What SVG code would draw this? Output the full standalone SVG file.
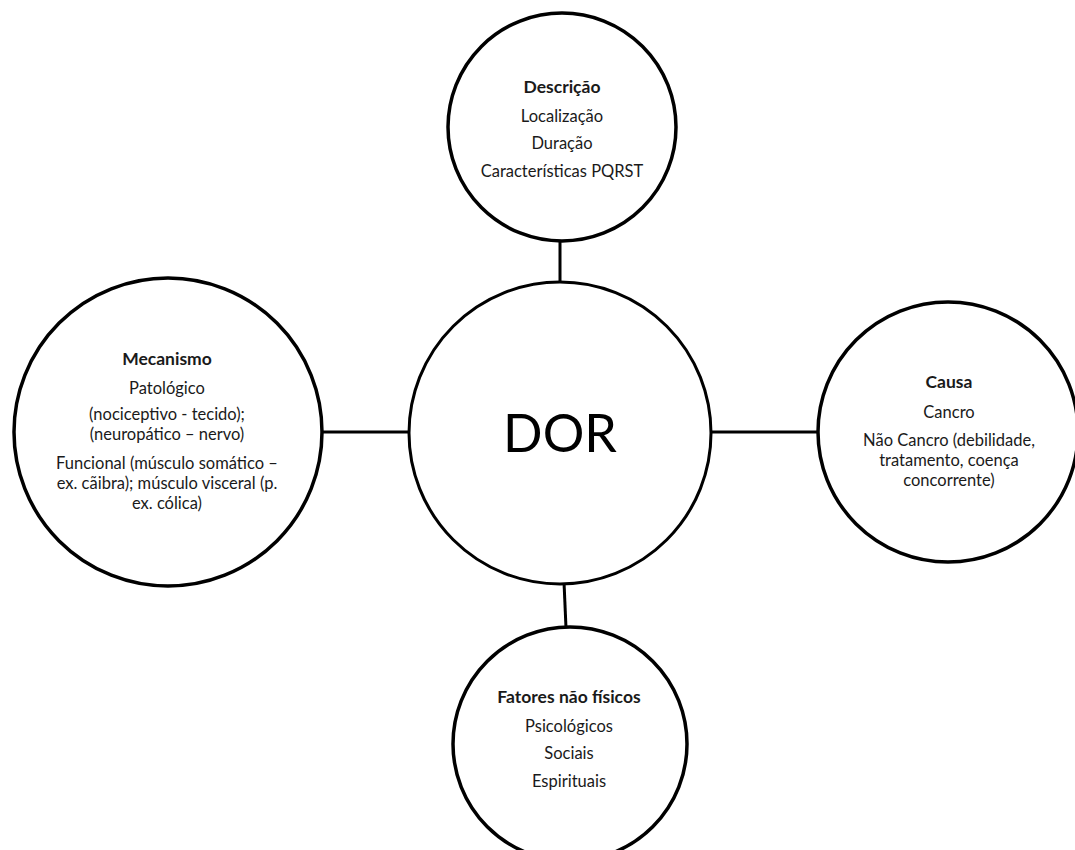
<svg xmlns="http://www.w3.org/2000/svg" width="1075" height="850" viewBox="0 0 1075 850">
<style>
.node{fill:#fff;stroke:#000;stroke-width:3.5}
.conn{stroke:#000;stroke-width:3;fill:none}
text{font-family:Lato,"Liberation Sans",sans-serif;fill:#1a1a1a;text-anchor:middle;font-size:16.5px}
.h{font-weight:bold;font-size:17.5px}
.big{font-size:52px;fill:#000}
</style>
<rect width="1075" height="850" fill="#fff"/>
<g id="connectors">
<line class="conn" x1="560" y1="240" x2="560" y2="284"/>
<line class="conn" x1="323" y1="432" x2="409" y2="432"/>
<line class="conn" x1="711" y1="432" x2="818" y2="432"/>
<line class="conn" x1="564" y1="582" x2="566" y2="628"/>
</g>
<g id="dor">
<circle class="node" cx="560" cy="433" r="151" style="stroke-width:3"/>
<text class="big" x="560" y="452">DOR</text>
</g>
<g id="descricao">
<circle class="node" cx="562" cy="127" r="114"/>
<text class="h" x="562" y="93">Descrição</text>
<text x="562" y="122">Localização</text>
<text x="562" y="149">Duração</text>
<text x="562" y="177">Características PQRST</text>
</g>
<g id="mecanismo">
<circle class="node" cx="168" cy="432" r="154"/>
<text class="h" x="167" y="365">Mecanismo</text>
<text x="167" y="394">Patológico</text>
<text x="167" y="420">(nociceptivo - tecido);</text>
<text x="167" y="440">(neuropático – nervo)</text>
<text x="167" y="469">Funcional (músculo somático –</text>
<text x="167" y="489">ex. cãibra); músculo visceral (p.</text>
<text x="167" y="509">ex. cólica)</text>
</g>
<g id="causa">
<circle class="node" cx="948" cy="432" r="130"/>
<text class="h" x="949" y="388">Causa</text>
<text x="949" y="418">Cancro</text>
<text x="949" y="446">Não Cancro (debilidade,</text>
<text x="949" y="466">tratamento, coença</text>
<text x="949" y="486">concorrente)</text>
</g>
<g id="fatores">
<circle class="node" cx="570" cy="744" r="117"/>
<text class="h" x="569" y="703">Fatores não físicos</text>
<text x="569" y="732">Psicológicos</text>
<text x="569" y="759">Sociais</text>
<text x="569" y="787">Espirituais</text>
</g>
</svg>
